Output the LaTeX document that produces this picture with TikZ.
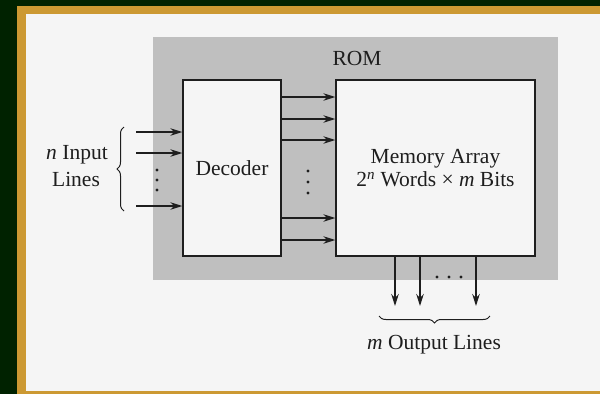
\documentclass[tikz,border=0pt]{standalone}
\usepackage{fontspec}
\setmainfont{Liberation Serif}
\usetikzlibrary{arrows.meta,decorations.pathreplacing}
\definecolor{frameGreen}{HTML}{002200}
\definecolor{frameGold}{HTML}{CC9933}
\definecolor{paper}{HTML}{F5F5F5}
\definecolor{romGray}{HTML}{BFBFBF}
\definecolor{ink}{HTML}{1E1E1E}
\tikzset{
  blockbox/.style={draw=ink, line width=1.4pt, fill=paper, inner sep=0pt},
  sig/.style={draw=ink, line width=1.2pt, -{Stealth[length=12pt,width=7.5pt]}},
  lbl/.style={text=ink, font=\fontsize{21.5}{23}\selectfont, inner sep=0pt},
  dotmark/.style={fill=ink, circle, inner sep=0pt, minimum size=3.2pt},
  bracepath/.style={draw=ink, line width=1pt, decorate}
}
\begin{document}
\begin{tikzpicture}[x=1pt,y=-1pt]
  % framing
  \useasboundingbox (0,0) rectangle (600,394);
  \fill[frameGreen] (0,0) rectangle (600,394);
  \fill[frameGold] (17,6) rectangle (600,394);
  \fill[paper] (26,14) rectangle (600,391);

  % ROM enclosure
  \fill[romGray] (153,37) rectangle (558,280);
  \node[lbl] (rom) at (357,58) {ROM};

  % blocks
  \node[blockbox, minimum width=98pt, minimum height=176pt] (dec) at (232,168) {};
  \node[lbl] (declbl) at (dec.center) {Decoder};
  \node[blockbox, minimum width=199pt, minimum height=176pt] (mem) at (435.5,168) {};
  \node[lbl, align=center] (memlbl) at (435.5,168.5) {Memory Array\\2\textsuperscript{\itshape n} Words × \textit{m} Bits};

  % input lines
  \coordinate (i1) at (136,132);
  \coordinate (i2) at (136,153);
  \coordinate (i3) at (136,206);
  \foreach \c in {i1,i2,i3} \draw[sig] (\c) -- (dec.west |- \c);
  \node[dotmark] (id1) at (157,170) {};
  \node[dotmark] (id2) at (157,180) {};
  \node[dotmark] (id3) at (157,190) {};
  \coordinate (ib1) at (124,211);
  \coordinate (ib2) at (124,127);
  \draw[bracepath, decoration={brace, amplitude=7pt}] (ib1) -- (ib2);
  \node[lbl] (inlbl1) at (77,155) {\textit{n} Input};
  \node[lbl] (inlbl2) at (76,179) {Lines};

  % word lines
  \foreach \y [count=\k] in {97,119,140,218,240} {
    \coordinate (w\k) at (282,\y);
    \draw[sig] (dec.east |- w\k) -- (mem.west |- w\k);
  }
  \node[dotmark] (wd1) at (308,171) {};
  \node[dotmark] (wd2) at (308,182) {};
  \node[dotmark] (wd3) at (308,193) {};

  % output lines
  \foreach \x [count=\k] in {395,420,476} {
    \coordinate (o\k) at (\x,306);
    \draw[sig] (mem.south -| o\k) -- (o\k);
  }
  \node[dotmark] (od1) at (437,277) {};
  \node[dotmark] (od2) at (449,277) {};
  \node[dotmark] (od3) at (461,277) {};
  \coordinate (ob1) at (379,316);
  \coordinate (ob2) at (490,316);
  \draw[bracepath, decoration={brace, amplitude=7pt, mirror}] (ob1) -- (ob2);
  \node[lbl] (outlbl) at (434,345) {\textit{m} Output Lines};
\end{tikzpicture}
\end{document}
